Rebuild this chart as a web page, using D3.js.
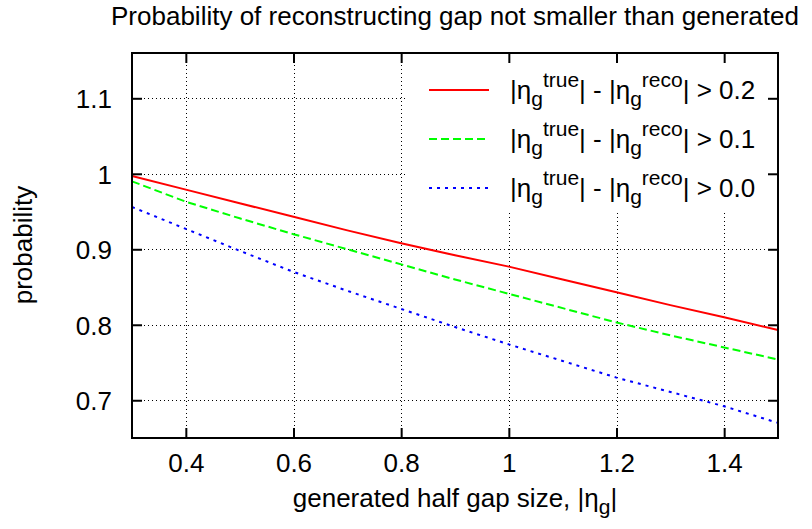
<!DOCTYPE html>
<html>
<head>
<meta charset="utf-8">
<script src="https://cdn.jsdelivr.net/npm/d3@7"></script>
<style>
  body { margin: 0; background: #fff; }
  text { font-family: "Liberation Sans", Arial, sans-serif; fill: #000; }
</style>
</head>
<body>
<script>
// half gap size values
var gapSize = [0.3, 0.4, 0.5, 0.6, 0.7, 0.8, 0.9, 1.0, 1.1, 1.2, 1.3, 1.4, 1.5];
// probability, one per cut
var probCut02 = [0.997, 0.979, 0.961, 0.943, 0.925, 0.908, 0.892, 0.877, 0.860, 0.843, 0.826, 0.810, 0.793];
var probCut01 = [0.990, 0.963, 0.941, 0.920, 0.900, 0.880, 0.860, 0.841, 0.822, 0.803, 0.786, 0.770, 0.754];
var probCut00 = [0.956, 0.927, 0.898, 0.870, 0.845, 0.821, 0.797, 0.774, 0.752, 0.730, 0.711, 0.692, 0.670];
var cutLabels = ["0.2", "0.1", "0.0"];
var xTicks = [0.4, 0.6, 0.8, 1.0, 1.2, 1.4];
var yTicks = [0.7, 0.8, 0.9, 1.0, 1.1];

var series = [
  {cut: cutLabels[0], values: probCut02, color: "#ff0000", dash: null},
  {cut: cutLabels[1], values: probCut01, color: "#00ff00", dash: "8,4"},
  {cut: cutLabels[2], values: probCut00, color: "#0000ff", dash: "3,5"}
];

var W = 812, H = 529;
// "top" is taken by window.top, so use other names
var pLeft = 132, pRight = 778, pTop = 53, pBottom = 438;
var fs = "26px", fsSmall = "21px";

var svg = d3.select("body").append("svg")
  .attr("width", W).attr("height", H);

var x = d3.scaleLinear().domain([0.3, 1.5]).range([pLeft, pRight]);
var y = d3.scaleLinear().domain([0.65, 1.16]).range([pBottom, pTop]);

// grid
var grid = svg.append("g").attr("stroke", "#000").attr("stroke-width", 1)
  .attr("stroke-dasharray", "1,3").attr("shape-rendering", "crispEdges");
grid.selectAll(".gx").data(xTicks).enter().append("line")
  .attr("x1", d => Math.round(x(d)) + 0.5).attr("x2", d => Math.round(x(d)) + 0.5)
  .attr("y1", pTop).attr("y2", pBottom);
grid.selectAll(".gy").data(yTicks).enter().append("line")
  .attr("x1", pLeft).attr("x2", pRight)
  .attr("y1", d => Math.round(y(d)) + 0.5).attr("y2", d => Math.round(y(d)) + 0.5);

// legend box covers the grid
var legX = 408, legH = 158;
svg.append("rect").attr("x", legX).attr("y", pTop)
  .attr("width", pRight - legX).attr("height", legH).attr("fill", "#fff");

// curves
var line = d3.line()
  .x((d, i) => x(gapSize[i]))
  .y(d => y(d));
svg.selectAll(".curve").data(series).enter().append("path")
  .attr("fill", "none")
  .attr("stroke", d => d.color)
  .attr("stroke-width", 2)
  .attr("stroke-dasharray", d => d.dash)
  .attr("d", d => line(d.values));

// axes (ticks inside, mirrored)
var tickLen = 10;
function drawAxis(axis, tx, ty) {
  var g = svg.append("g").attr("transform", "translate(" + tx + "," + ty + ")").call(axis);
  g.select(".domain").remove();
  g.selectAll(".tick line").attr("stroke", "#000").attr("stroke-width", 2);
  return g;
}
var gB = drawAxis(d3.axisBottom(x).tickValues(xTicks).tickSizeInner(-tickLen).tickPadding(16)
  .tickFormat(d3.format("~g")), 0, pBottom);
gB.selectAll("text").style("font-size", fs).attr("font-family", null);
drawAxis(d3.axisTop(x).tickValues(xTicks).tickSizeInner(-tickLen).tickFormat(""), 0, pTop);
var gL = drawAxis(d3.axisLeft(y).tickValues(yTicks).tickSizeInner(-tickLen).tickPadding(20)
  .tickFormat(d3.format("~g")), pLeft, 0);
gL.selectAll("text").style("font-size", fs).attr("font-family", null).attr("dy", "0.36em");
drawAxis(d3.axisRight(y).tickValues(yTicks).tickSizeInner(-tickLen).tickFormat(""), pRight, 0);

// frame
svg.append("rect").attr("x", pLeft).attr("y", pTop)
  .attr("width", pRight - pLeft).attr("height", pBottom - pTop)
  .attr("fill", "none").attr("stroke", "#000").attr("stroke-width", 2);

// legend
var legRow = [90, 139, 188];
var leg = svg.selectAll(".leg").data(series).enter().append("g")
  .attr("transform", (d, i) => "translate(0," + legRow[i] + ")");
leg.append("line").attr("x1", 429).attr("x2", 489).attr("y1", 0).attr("y2", 0)
  .attr("stroke", d => d.color).attr("stroke-width", 2)
  .attr("stroke-dasharray", d => d.dash);
var lt = leg.append("text").attr("x", 510).attr("y", 9).style("font-size", fs);
lt.append("tspan").text("|η");
lt.append("tspan").attr("dy", 7).style("font-size", fsSmall).text("g");
lt.append("tspan").attr("dy", -19).style("font-size", fsSmall).text("true");
lt.append("tspan").attr("dy", 12).text("| - |η");
lt.append("tspan").attr("dy", 7).style("font-size", fsSmall).text("g");
lt.append("tspan").attr("dy", -19).style("font-size", fsSmall).text("reco");
lt.append("tspan").attr("dy", 12).text(d => "| > " + d.cut);

// titles
svg.append("text").attr("x", 455).attr("y", 25).attr("text-anchor", "middle")
  .style("font-size", fs).text("Probability of reconstructing gap not smaller than generated");

var xl = svg.append("text").attr("x", 455).attr("y", 507).attr("text-anchor", "middle")
  .style("font-size", fs);
xl.append("tspan").text("generated half gap size, |η");
xl.append("tspan").attr("dy", 7).style("font-size", fsSmall).text("g");
xl.append("tspan").attr("dy", -7).text("|");

svg.append("text").attr("transform", "translate(32,245) rotate(-90)")
  .attr("text-anchor", "middle").style("font-size", fs).text("probability");
</script>
</body>
</html>
